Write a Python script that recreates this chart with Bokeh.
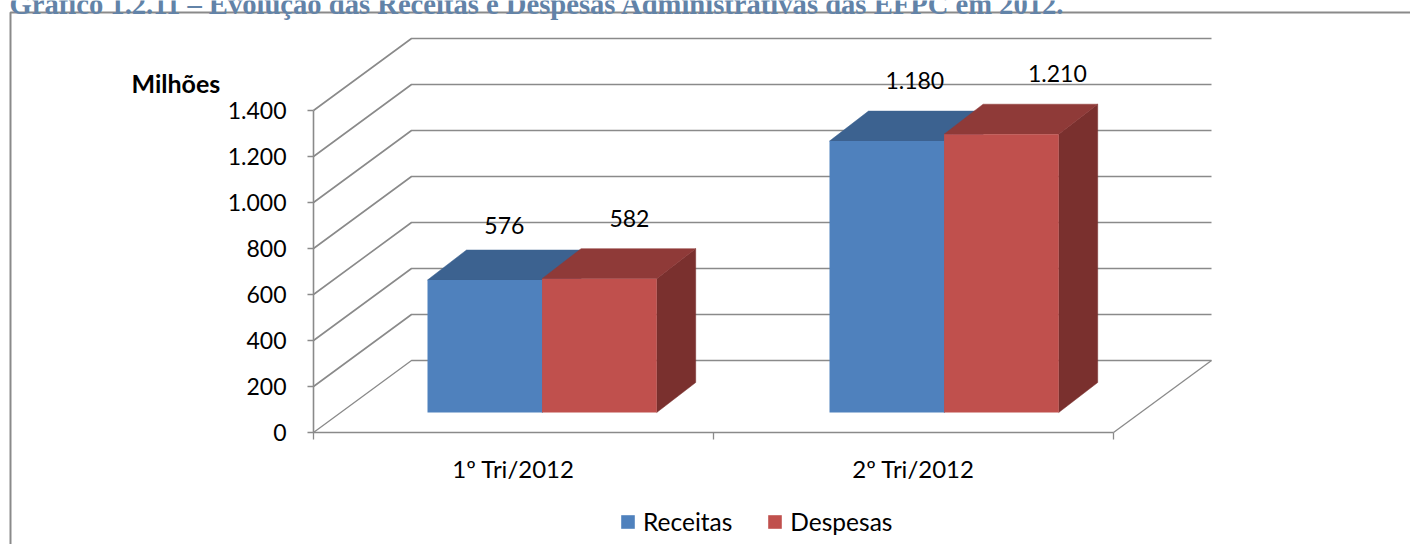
from bokeh.plotting import figure
from bokeh.embed import file_html
from bokeh.resources import INLINE
from bokeh.core.properties import value
from bokeh.models import (Range1d, LinearAxis, FixedTicker, Label, BoxAnnotation,
                          Legend, LegendItem, ColumnDataSource)

# ---- data ----
categories = ["1º Tri/2012", "2º Tri/2012"]
receitas = [576, 1180]
despesas = [582, 1210]
data_labels = ["576", "582", "1.180", "1.210"]
y_ticks = [0, 200, 400, 600, 800, 1000, 1200, 1400]
y_tick_labels = ["0", "200", "400", "600", "800", "1.000", "1.200", "1.400"]
series_names = ["Receitas", "Despesas"]
title_text = "Gráfico 1.2.11 – Evolução das Receitas e Despesas Administrativas das EFPC em 2012."

# ---- geometry / style ----
W, H = 1410, 544
PLOT_L, PLOT_B = 313, 432
PX_PER_CAT = 400.0
PX_PER_VAL = 0.23
DX = 98 / PX_PER_CAT          # wall depth, category units
DY = 72 / PX_PER_VAL          # wall depth, value units
BAR_DX = 39 / PX_PER_CAT
BAR_DY = 30 / PX_PER_VAL
BAR_LIFT = 20 / PX_PER_VAL
BAR_W = 0.2865
STARTS = [0.285, 1.29]
FONT = "Lato"
GRID = "#8a8a8a"
BLUE, BLUE_TOP = "#4F81BD", "#3C6290"
RED, RED_TOP, RED_SIDE = "#C0504D", "#8F3A38", "#7A302E"
LABEL_OFF = [(19.5, -55), (30, -60), (28, -60.5), (56, -61)]

p = figure(width=W, height=H, output_backend="svg", toolbar_location=None,
           x_range=Range1d(-PLOT_L / PX_PER_CAT, (W - PLOT_L) / PX_PER_CAT),
           y_range=Range1d((PLOT_B - H) / PX_PER_VAL, PLOT_B / PX_PER_VAL),
           x_axis_type=None, y_axis_type=None,
           min_border_left=0, min_border_right=0, min_border_top=0,
           min_border_bottom=0, margin=(0, 0, 0, 0))
p.outline_line_color = None
p.grid.visible = False
p.background_fill_color = "white"

# walls and floor
for v in y_ticks:
    p.line([0, DX, DX + 2.0], [v, v + DY, v + DY],
           line_color=GRID, line_width=1.6 if v else 1.3)
p.line([2.0, 2.0 + DX], [0, DY], line_color=GRID, line_width=1.3)

# bars
bar_sources = []
for i, (name, vals, col, top, side) in enumerate([
        (series_names[0], receitas, BLUE, BLUE_TOP, BLUE_TOP),
        (series_names[1], despesas, RED, RED_TOP, RED_SIDE)]):
    lefts = [s + i * BAR_W for s in STARTS]
    rights = [l + BAR_W for l in lefts]
    bottoms = [BAR_LIFT] * 2
    tops = [BAR_LIFT + v for v in vals]
    p.patches([[r, r + BAR_DX, r + BAR_DX, r] for r in rights],
              [[b, b + BAR_DY, t + BAR_DY, t] for b, t in zip(bottoms, tops)],
              fill_color=side, line_color=side, line_width=0.5)
    p.patches([[l, l + BAR_DX, r + BAR_DX, r] for l, r in zip(lefts, rights)],
              [[t, t + BAR_DY, t + BAR_DY, t] for t in tops],
              fill_color=top, line_color=top, line_width=0.5)
    r_ = p.quad(left=lefts, right=rights, bottom=bottoms, top=tops,
                fill_color=col, line_color=None)
    bar_sources.append(r_)

# data labels
all_vals = [receitas[0], despesas[0], receitas[1], despesas[1]]
cx = [STARTS[0] + BAR_W / 2, STARTS[0] + BAR_W * 1.5, STARTS[1] + BAR_W / 2, STARTS[1] + BAR_W * 1.5]
src = ColumnDataSource(dict(x=cx, y=[BAR_LIFT + v for v in all_vals], t=data_labels,
                            xo=[o[0] for o in LABEL_OFF], yo=[o[1] for o in LABEL_OFF]))
p.text("x", "y", text="t", source=src, x_offset="xo", y_offset="yo",
       text_font=value(FONT), text_font_size="23px", text_color="#000000",
       text_align="center", text_baseline="middle")

# axes
ya = LinearAxis(ticker=FixedTicker(ticks=y_ticks, minor_ticks=[]), bounds=(0, 1400), fixed_location=0,
                major_label_overrides=dict(zip(y_ticks, y_tick_labels)))
ya.axis_line_color = GRID
ya.axis_line_width = 1.6
ya.major_tick_line_color = GRID
ya.major_tick_line_width = 1.6
ya.major_tick_in = 0
ya.major_tick_out = 6
ya.major_label_standoff = 21
ya.major_label_text_font = FONT
ya.major_label_text_font_size = "23px"
ya.major_label_text_color = "#000000"
p.add_layout(ya, "left")

xa = LinearAxis(ticker=FixedTicker(ticks=[0.5, 1.5], minor_ticks=[0, 1, 2]), bounds=(0, 2), fixed_location=0,
                major_label_overrides={0.5: categories[0], 1.5: categories[1]})
xa.axis_line_color = GRID
xa.axis_line_width = 1.6
xa.major_tick_line_color = None
xa.minor_tick_line_color = GRID
xa.minor_tick_line_width = 1.3
xa.minor_tick_in = 0
xa.minor_tick_out = 7
xa.major_tick_in = 0
xa.major_tick_out = 0
xa.major_label_standoff = 14
xa.major_label_text_font = FONT
xa.major_label_text_font_size = "24px"
xa.major_label_text_color = "#000000"
p.add_layout(xa, "below")

# frame of the picture (only left and top reach the image)
p.add_layout(BoxAnnotation(left=10, right=W + 40, top=H - 12, bottom=-40,
                           left_units="screen", right_units="screen",
                           top_units="screen", bottom_units="screen",
                           fill_color=None, line_color="#8a8a8a", line_alpha=1, line_width=2))

p.add_layout(Label(x=131, y=H - 82, x_units="screen", y_units="screen", text="Milhões",
                   text_font=FONT, text_font_style="bold", text_font_size="25px",
                   text_color="#000000", text_baseline="middle"))
p.add_layout(Label(x=9, y=H - 4, x_units="screen", y_units="screen", text=title_text,
                   text_font="Liberation Serif", text_font_style="bold", text_font_size="28.6px",
                   text_color="#6283A8", text_baseline="alphabetic"))

legend = Legend(items=[LegendItem(label=series_names[0], renderers=[bar_sources[0]]),
                       LegendItem(label=series_names[1], renderers=[bar_sources[1]])],
                orientation="horizontal", location=(619, 8), border_line_color=None,
                background_fill_color=None, glyph_width=17, glyph_height=17,
                label_text_font=FONT, label_text_font_size="24.5px", label_text_color="#000000",
                spacing=34, margin=0, padding=0, label_standoff=7)
p.add_layout(legend, "center")

open("out.html", "w").write(file_html(p, INLINE))
